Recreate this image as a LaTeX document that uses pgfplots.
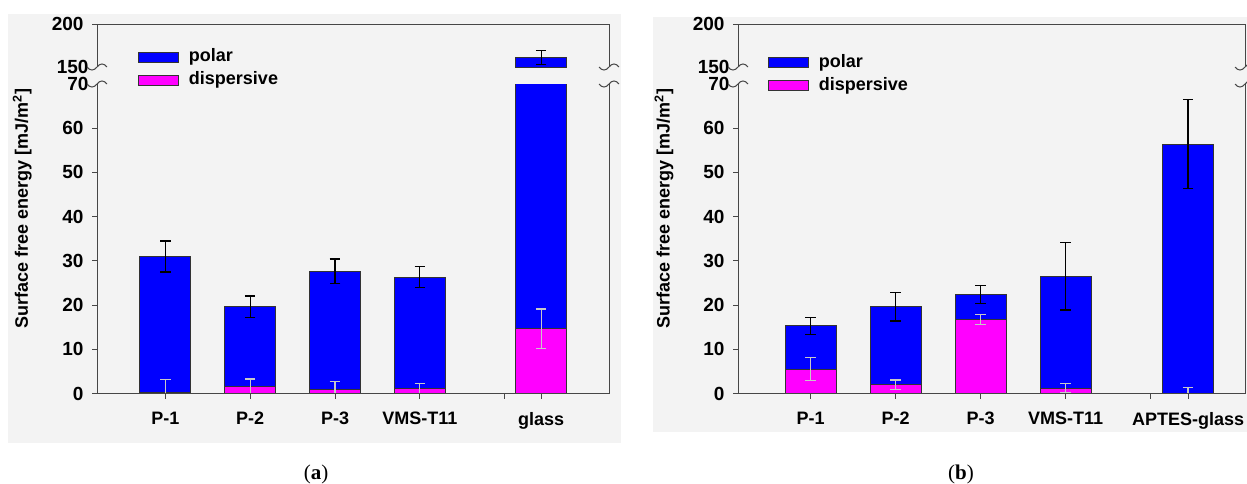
\documentclass[border=0pt]{standalone}
\usepackage{fontspec}
\setmainfont{Liberation Sans}
\newfontfamily\serifcap{Liberation Serif}
\usepackage{pgfplots}
\pgfplotsset{compat=1.18}
\usepackage{pgfplotstable}
\usetikzlibrary{calc}

\definecolor{bgray}{RGB}{243,243,243}
\definecolor{axgray}{RGB}{70,70,70}
\definecolor{polarblue}{RGB}{0,0,255}
\definecolor{dispmag}{RGB}{255,0,255}
\definecolor{errgray}{RGB}{200,200,200}

% x  dispersive  dispersive-error  polar  total-error
\pgfplotstableread{
x disp disperr polar toterr
1 0.3 2.9 30.7 3.5
2 1.6 1.7 18.0 2.45
3 0.8 1.85 26.8 2.8
4 1.1 1.2 25.2 2.35
5.43 14.6 4.5 146.4 8.0
}\dataA
\pgfplotstableread{
x disp disperr polar toterr
1 5.5 2.6 9.8 1.9
2 2.0 1.05 17.6 3.2
3 16.75 1.2 5.65 2.1
4 1.2 1.05 25.3 7.6
5.44 0.1 1.2 56.3 10.1
}\dataB

\pgfplotsset{
  common/.style={
    scale only axis,
    axis line style={draw=none},
    tick align=outside,
    tick pos=left,
    major tick length=5pt,
    tick style={draw=axgray, line width=1pt},
    /pgf/number format/assume math mode=true,
    yticklabel style={font=\bfseries\fontsize{19}{19}\selectfont, xshift=-5pt},
    xticklabel style={font=\bfseries\fontsize{18}{18}\selectfont, yshift=-10pt},
    clip mode=global,
  },
  lower/.style={common, height=309.5pt, ymin=0, ymax=70,
    ytick={0,10,...,60}, extra y ticks={70},
    extra y tick style={major tick length=0pt},
    every axis y label/.style={at={(axis description cs:-0.146,0.598)}, rotate=90, anchor=center,
      font=\bfseries\fontsize{18}{18}\selectfont},
    ylabel={Surface free energy [mJ/m\textsuperscript{2}]},
  },
  upper/.style={common, height=43pt, ymin=150, ymax=200,
    ytick={200}, extra y ticks={150},
    extra y tick style={major tick length=0pt},
    xtick=\empty,
    restrict y to domain=150:200,
    legend cell align=left,
    legend style={anchor=north west, draw=none, fill=none, inner sep=0pt, outer sep=0pt,
      row sep=9pt, font=\bfseries\fontsize{18}{18}\selectfont,
      nodes={inner sep=0pt, text height=13pt, text depth=0pt},
      /tikz/every odd column/.append style={column sep=10pt}},
  },
  boxlegend/.style={legend image code/.code={\draw[fill=#1,draw=black!80,line width=1pt] (0pt,-7pt) rectangle (40pt,3pt);}},
}

\newcommand{\drawbars}[1]{%
  \addplot[ybar, bar width=51pt, bar shift=0pt, fill=polarblue, draw=black!80, line width=1pt, forget plot]
    table[x=x, y expr=\thisrow{disp}+\thisrow{polar}] {#1};
  \addplot[ybar, bar width=51pt, bar shift=0pt, fill=dispmag, draw=black!80, line width=1pt, forget plot]
    table[x=x, y=disp] {#1};
  \addplot[draw=none, mark=none, forget plot,
    error bars/.cd, y dir=both, y explicit,
    error bar style={draw=black, line width=1.2pt},
    error mark options={rotate=90, mark size=5.3pt, draw=black, line width=1.2pt}]
    table[x=x, y expr=\thisrow{disp}+\thisrow{polar}, y error=toterr] {#1};
  \addplot[draw=none, mark=none, forget plot,
    error bars/.cd, y dir=both, y explicit,
    error bar style={draw=errgray, line width=1.2pt},
    error mark options={rotate=90, mark size=5.3pt, draw=errgray, line width=1.2pt}]
    table[x=x, y=disp, y error=disperr] {#1};
}

\newcommand{\squig}[1]{%
  \draw[axgray, line width=1pt] ($(#1)+(-10pt,0pt)$) .. controls +(3pt,-4pt) and +(-3pt,-4pt) .. ($(#1)$)
     .. controls +(3pt,4pt) and +(-3pt,4pt) .. ($(#1)+(10pt,0pt)$);}

\newcommand{\frames}[2]{%
  \draw[axgray, line width=1pt] (#1.north west) -- (#1.south west) -- (#1.south east) -- (#1.north east);
  \draw[axgray, line width=1pt] (#2.south west) -- (#2.north west) -- (#2.north east) -- (#2.south east);
  \squig{#1.north west}\squig{#1.north east}\squig{#2.south west}\squig{#2.south east}}

\begin{document}
\begin{tikzpicture}
\path[use as bounding box] (0pt,0pt) rectangle (1247pt,-483pt);
\fill[bgray] (8pt,-14pt) rectangle (621pt,-443pt);
\fill[bgray] (653pt,-17pt) rectangle (1247pt,-432pt);

% ---------------- panel (a) ----------------
\begin{axis}[lower, name=alo, at={(97pt,-393.5pt)}, anchor=south west,
  width=512pt, xmin=0.194, xmax=6.23,
  xtick={1,2,3,4,5,5.43}, xticklabels={P-1,P-2,P-3,VMS-T11,,glass}]
\drawbars{\dataA}
\end{axis}
\begin{axis}[upper, name=aup, at={(97pt,-67pt)}, anchor=south west,
  width=512pt, xmin=0.194, xmax=6.23,
  legend style={at={(axis description cs:0.080,0.419)}}]
\addlegendimage{boxlegend=polarblue}
\addlegendentry{polar}
\addlegendimage{boxlegend=dispmag}
\addlegendentry{dispersive}
\drawbars{\dataA}
\end{axis}
\frames{alo}{aup}

% ---------------- panel (b) ----------------
\begin{axis}[lower, name=blo, at={(738pt,-393.5pt)}, anchor=south west,
  width=507pt, xmin=0.147, xmax=6.11,
  xtick={1,2,3,4,5,5.44}, xticklabels={P-1,P-2,P-3,VMS-T11,,APTES-glass}]
\drawbars{\dataB}
\end{axis}
\begin{axis}[upper, name=bup, at={(738pt,-67pt)}, anchor=south west,
  width=507pt, xmin=0.147, xmax=6.11,
  legend style={at={(axis description cs:0.059,0.302)}}]
\addlegendimage{boxlegend=polarblue}
\addlegendentry{polar}
\addlegendimage{boxlegend=dispmag}
\addlegendentry{dispersive}
\drawbars{\dataB}
\end{axis}
\frames{blo}{bup}

\node[font=\serifcap\fontsize{21}{21}\selectfont] at (316pt,-474pt) {(\textbf{a})};
\node[font=\serifcap\fontsize{21}{21}\selectfont] at (961pt,-474pt) {(\textbf{b})};
\end{tikzpicture}
\end{document}
